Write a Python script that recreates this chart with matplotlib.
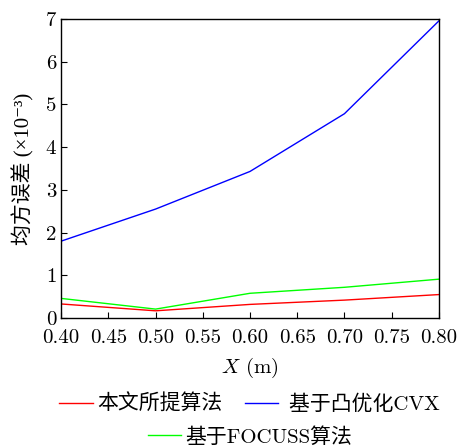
import matplotlib
matplotlib.use("Agg")
import matplotlib.pyplot as plt
from matplotlib.lines import Line2D

plt.rcParams['font.family'] = ['cmr10', 'Noto Sans CJK SC', 'DejaVu Serif']
plt.rcParams['mathtext.fontset'] = 'cm'
plt.rcParams['axes.formatter.use_mathtext'] = True

x = [0.4, 0.5, 0.6, 0.7, 0.8]
ours = [0.33, 0.17, 0.32, 0.42, 0.55]
cvx = [1.80, 2.55, 3.43, 4.78, 6.95]
focuss = [0.46, 0.21, 0.58, 0.72, 0.91]

xticks = [0.40, 0.45, 0.50, 0.55, 0.60, 0.65, 0.70, 0.75, 0.80]
yticks = [0, 1, 2, 3, 4, 5, 6, 7]

fig = plt.figure(figsize=(4.6, 4.48), dpi=100)
ax = fig.add_axes([0.133, 0.290, 0.821, 0.668])

ax.plot(x, ours, color="#ff0000", lw=1.0)
ax.plot(x, cvx, color="#0000ff", lw=1.0)
ax.plot(x, focuss, color="#00ff00", lw=1.0)

ax.set_xlim(0.4, 0.8)
ax.set_ylim(0, 7)
ax.set_xticks(xticks)
ax.set_xticklabels(["%.2f" % t for t in xticks])
ax.set_yticks(yticks)
ax.set_yticklabels([str(t) for t in yticks])
ax.tick_params(direction="in", labelsize=15, length=4, width=0.8)
ax.tick_params(axis="x", pad=8)
for s in ax.spines.values():
    s.set_linewidth(1.0)

ax.set_xlabel("$X$ (m)", fontsize=15, labelpad=6)
ax.set_ylabel("均方误差 (×10⁻³)", fontsize=15, labelpad=8,
              family=['Liberation Serif', 'Noto Sans CJK SC', 'DejaVu Serif'])

h1 = [Line2D([], [], color="#ff0000", lw=1.0), Line2D([], [], color="#0000ff", lw=1.0)]
fig.legend(h1, ["本文所提算法", " 基于凸优化CVX"], ncol=2, loc="center",
           bbox_to_anchor=(0.543, 0.098), frameon=False, fontsize=15,
           handlelength=1.6, handletextpad=0.2, columnspacing=1.1)
h2 = [Line2D([], [], color="#00ff00", lw=1.0)]
fig.legend(h2, ["基于FOCUSS算法"], loc="center", bbox_to_anchor=(0.543, 0.025),
           frameon=False, fontsize=15, handlelength=1.6, handletextpad=0.2)

fig.savefig("out.png", dpi=100)
